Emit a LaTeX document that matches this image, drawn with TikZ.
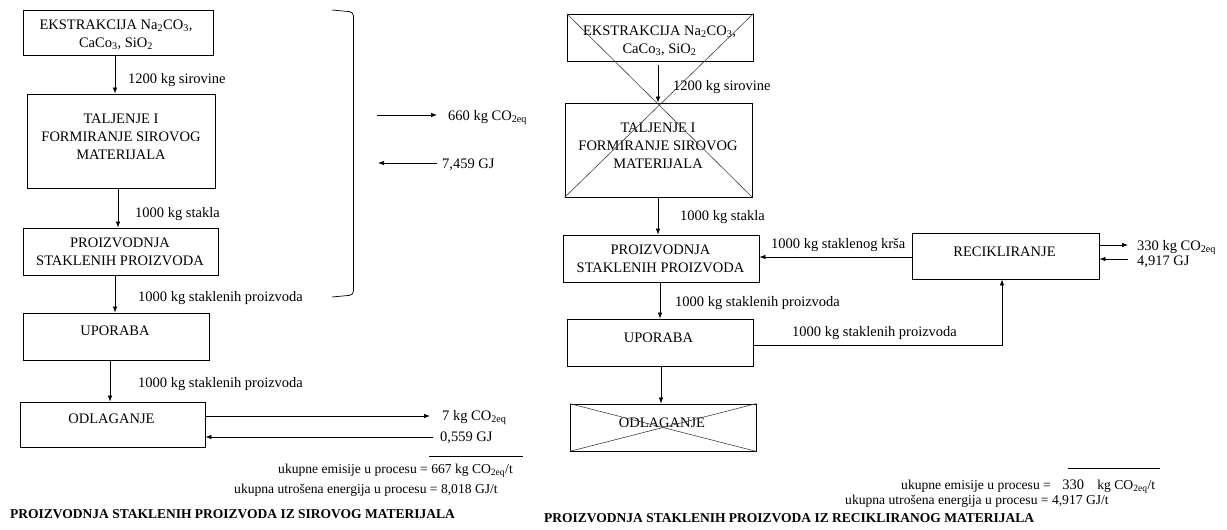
\documentclass[tikz,border=0pt]{standalone}
\usepackage{fontspec}
\setmainfont{Liberation Serif}
\usetikzlibrary{arrows.meta}
\tikzset{
  box/.style={draw, line width=0.8pt, inner sep=0pt},
  btxt/.style={font=\fontsize{14.5}{18}\selectfont, inner sep=0pt, align=center},
  lbl/.style={font=\fontsize{14.5}{17}\selectfont, inner sep=0pt, anchor=base west},
  sumtxt/.style={font=\fontsize{13.6}{17}\selectfont, inner sep=0pt, anchor=base west},
  ttl/.style={font=\bfseries\fontsize{13.5}{16}\selectfont, inner sep=0pt, anchor=base west},
  arr/.style={-{Latex[length=6pt,width=4.5pt]}, line width=0.7pt},
  conn/.style={line width=0.7pt},
  xline/.style={line width=0.6pt, black!75}
}
\newcommand{\coeq}{CO\textsubscript{2eq}}
\begin{document}
\begin{tikzpicture}[x=1pt,y=-1pt]
\useasboundingbox (0,0) rectangle (1227,530);

% ---------- left column boxes ----------
\node[box, minimum width=190pt, minimum height=45pt] (E1) at (118,32.5) {};
\node[btxt] (E1t) at (116,35) {EKSTRAKCIJA Na\textsubscript{2}CO\textsubscript{3},\\CaCo\textsubscript{3}, SiO\textsubscript{2}};
\node[box, minimum width=188pt, minimum height=94pt] (T1) at (121,141) {};
\node[btxt] (T1t) at (121,137) {TALJENJE I\\FORMIRANJE SIROVOG\\MATERIJALA};
\node[box, minimum width=195pt, minimum height=47pt] (P1) at (120.5,251.5) {};
\node[btxt] (P1t) at (120,252) {PROIZVODNJA\\STAKLENIH PROIZVODA};
\node[box, minimum width=186pt, minimum height=47pt] (U1) at (116,336.5) {};
\node[btxt, anchor=base] (U1t) at (115,335) {UPORABA};
\node[box, minimum width=185pt, minimum height=45pt] (O1) at (112.5,424.5) {};
\node[btxt, anchor=base] (O1t) at (111.5,423) {ODLAGANJE};

% vertical connectors left
\coordinate (ax1) at (115,0);
\coordinate (ax2) at (118,0);
\coordinate (ax3) at (115,0);
\coordinate (ax4) at (110,0);
\draw[arr] (E1.south -| ax1) -- (T1.north -| ax1);
\draw[arr] (T1.south -| ax2) -- (P1.north -| ax2);
\draw[arr] (P1.south -| ax3) -- (U1.north -| ax3);
\draw[arr] (U1.south -| ax4) -- (O1.north -| ax4);
\node[lbl] (l1) at (128,83) {1200 kg sirovine};
\node[lbl] (l2) at (135,217) {1000 kg stakla};
\node[lbl] (l3) at (138,301) {1000 kg staklenih proizvoda};
\node[lbl] (l4) at (138,387) {1000 kg staklenih proizvoda};

% bracket
\coordinate (bt) at (332,10);
\coordinate (bb) at (332,297);
\draw[conn, rounded corners=4pt] (bt) -- (353.5,12) -- (353.5,295) -- (bb);

% middle arrows
\coordinate (m1) at (377,115);
\coordinate (m2) at (437,115);
\coordinate (m3) at (437,163);
\coordinate (m4) at (378,163);
\draw[arr] (m1) -- (m2);
\draw[arr] (m3) -- (m4);
\node[lbl] (l5) at (448,120) {660 kg \coeq};
\node[lbl] (l6) at (442,168) {7,459 GJ};

% ODLAGANJE arrows left
\coordinate (o1) at (430,416);
\coordinate (o2) at (433,437);
\draw[arr] (O1.east |- o1) -- (o1);
\draw[arr] (o2) -- (O1.east |- o2);
\node[lbl] (l7) at (442,420) {7 kg \coeq};
\node[lbl] (l8) at (440,441) {0,559 GJ};
\coordinate (u1) at (429,456);
\coordinate (u2) at (523,456);
\draw[conn] (u1) -- (u2);
\node[sumtxt] (s1) at (278,473) {ukupne emisije u procesu = 667 kg CO\textsubscript{2eq}/t};
\node[sumtxt] (s2) at (234,493) {ukupna utrošena energija u procesu = 8,018 GJ/t};
\node[ttl] (tl) at (10,518) {PROIZVODNJA STAKLENIH PROIZVODA IZ SIROVOG MATERIJALA};

% ---------- right column ----------
\node[box, minimum width=186pt, minimum height=47pt] (E2) at (660,37.5) {};
\node[btxt] (E2t) at (659.5,41) {EKSTRAKCIJA Na\textsubscript{2}CO\textsubscript{3},\\CaCo\textsubscript{3}, SiO\textsubscript{2}};
\node[box, minimum width=187pt, minimum height=94pt] (T2) at (658.5,150) {};
\node[btxt] (T2t) at (658,146) {TALJENJE I\\FORMIRANJE SIROVOG\\MATERIJALA};
\draw[xline] (E2.north west) -- (T2.south east);
\draw[xline] (E2.north east) -- (T2.south west);
\node[box, minimum width=196pt, minimum height=47pt] (P2) at (661,258.5) {};
\node[btxt] (P2t) at (660.5,259) {PROIZVODNJA\\STAKLENIH PROIZVODA};
\node[box, minimum width=187pt, minimum height=46pt] (R) at (1005.5,256) {};
\node[btxt, anchor=base] (Rt) at (1004.5,256) {RECIKLIRANJE};
\node[box, minimum width=186pt, minimum height=47pt] (U2) at (660,342.5) {};
\node[btxt, anchor=base] (U2t) at (658.5,342) {UPORABA};
\node[box, minimum width=186pt, minimum height=47pt] (O2) at (663,427.5) {};
\node[btxt, anchor=base] (O2t) at (662,427) {ODLAGANJE};
\draw[xline] (O2.north west) -- (O2.south east);
\draw[xline] (O2.north east) -- (O2.south west);

\coordinate (bx1) at (658,0);
\coordinate (bx2) at (658,0);
\coordinate (bx3) at (660,0);
\coordinate (bx4) at (661,0);
\draw[arr, shorten <=4pt] (E2.south -| bx1) -- (T2.north -| bx1);
\draw[arr] (T2.south -| bx2) -- (P2.north -| bx2);
\draw[arr] (P2.south -| bx3) -- (U2.north -| bx3);
\draw[arr] (U2.south -| bx4) -- (O2.north -| bx4);
\node[lbl] (r1) at (673,90) {1200 kg sirovine};
\node[lbl] (r2) at (680,220) {1000 kg stakla};
\node[lbl] (r3) at (675,306) {1000 kg staklenih proizvoda};

% recycling connectors
\coordinate (h1) at (0,257);
\draw[arr] (R.west |- h1) -- (P2.east |- h1);
\node[lbl] (r4) at (771,248) {1000 kg staklenog krša};
\coordinate (k1) at (1002,345);
\draw[arr] (U2.east |- k1) -- (k1) -- (k1 |- R.south);
\node[lbl] (r5) at (792,336) {1000 kg staklenih proizvoda};
\coordinate (c1) at (1128,245);
\coordinate (c2) at (1128,259);
\draw[arr] (R.east |- c1) -- (c1);
\draw[arr] (c2) -- (R.east |- c2);
\node[lbl] (r6) at (1137,250) {330 kg \coeq};
\node[lbl] (r7) at (1137,265) {4,917 GJ};

% totals right
\coordinate (v1) at (1068,468);
\coordinate (v2) at (1160,468);
\draw[conn] (v1) -- (v2);
\node[sumtxt] (s3) at (901,489) {ukupne emisije u procesu = \hspace{8pt}{\fontsize{14.5}{17}\selectfont 330}\hspace{10pt} kg CO\textsubscript{2eq}/t};
\node[sumtxt] (s4) at (845,504) {ukupna utrošena energija u procesu = 4,917 GJ/t};
\node[ttl] (tr) at (544,522) {PROIZVODNJA STAKLENIH PROIZVODA IZ RECIKLIRANOG MATERIJALA};
\end{tikzpicture}
\end{document}
